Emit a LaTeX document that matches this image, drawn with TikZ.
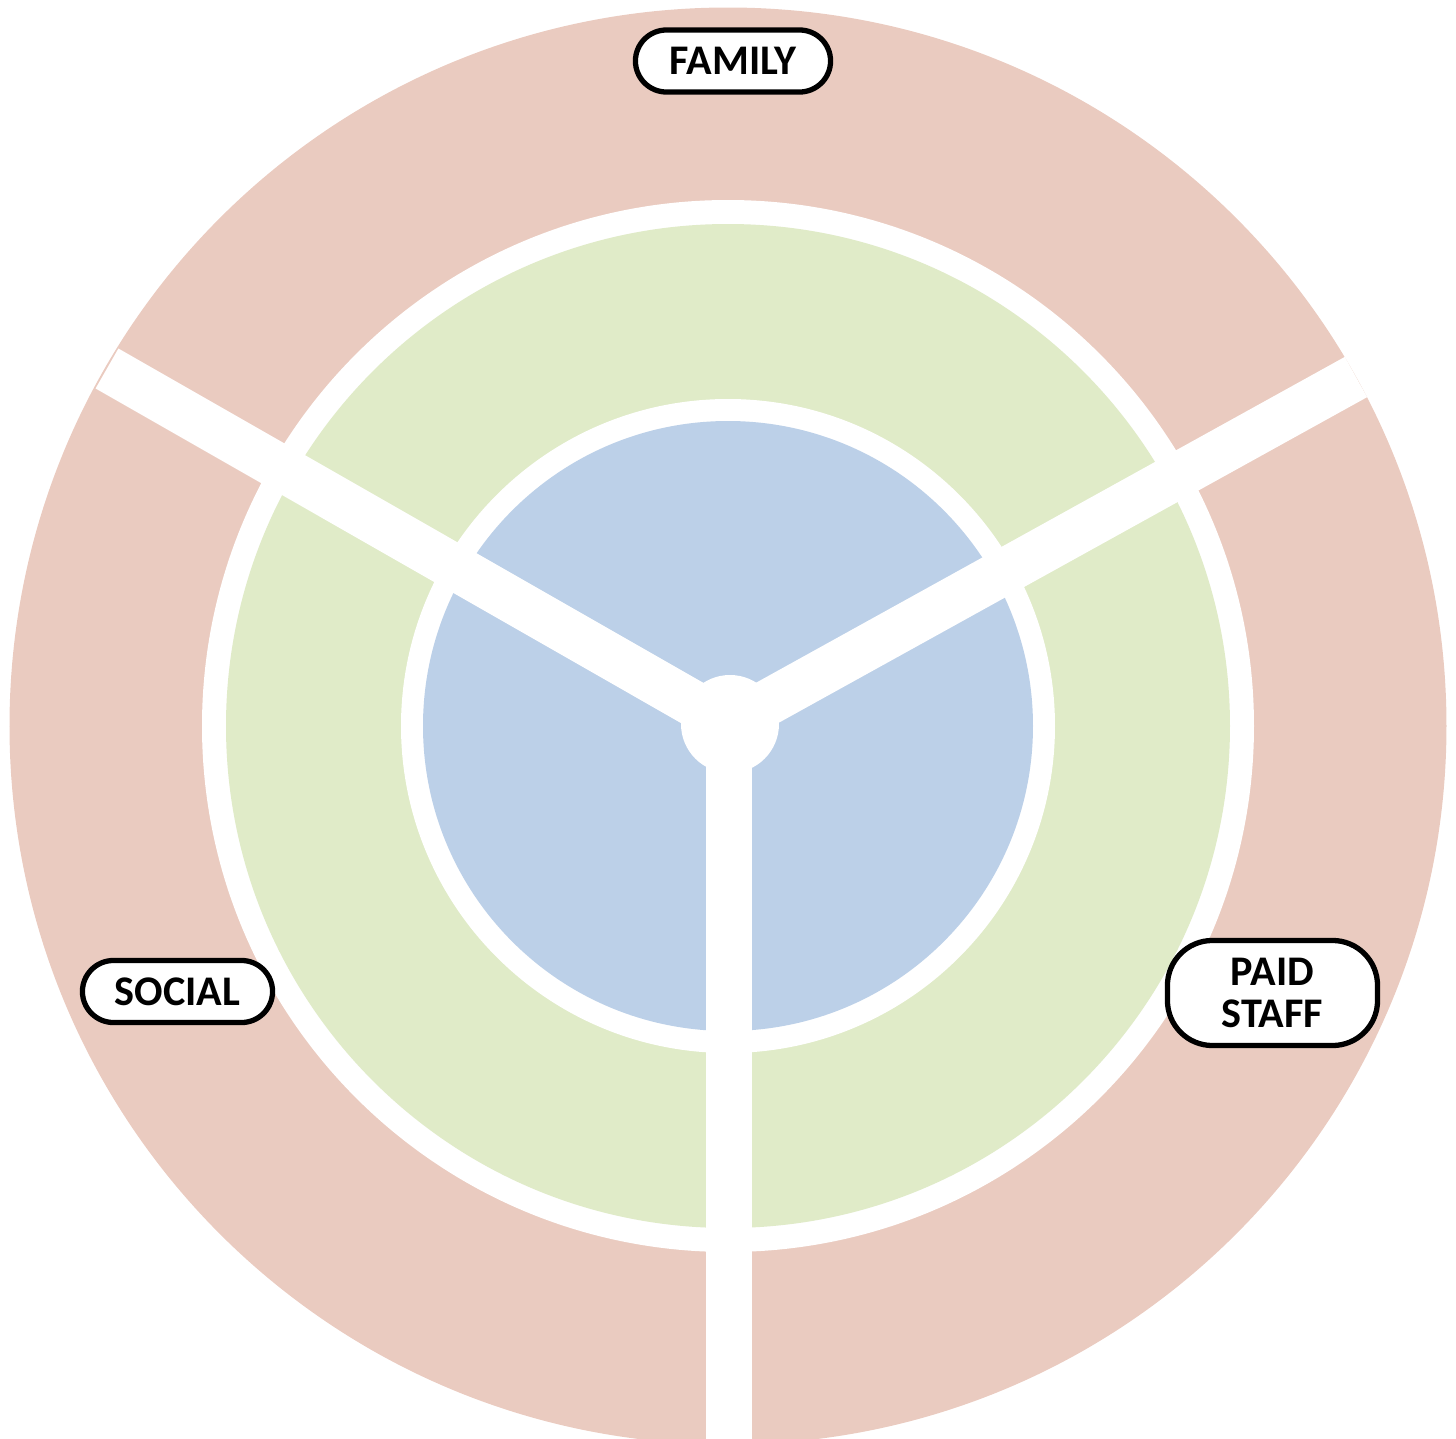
\documentclass[tikz,border=0pt]{standalone}
\usepackage{fontspec}
\setmainfont{Carlito}
\definecolor{ringpink}{RGB}{234,203,192}
\definecolor{ringgreen}{RGB}{224,235,200}
\definecolor{ringblue}{RGB}{188,208,232}
\begin{document}
\begin{tikzpicture}[x=0.01cm,y=-0.01cm,
  spoke/.style={white,line width=0.46cm,line cap=butt},
  tag/.style={draw=black,fill=white,line width=1.5pt,inner sep=0pt,
    font=\fontsize{12}{12.2}\selectfont\bfseries,align=center}]
\useasboundingbox (0,0) rectangle (1456,1439);
% rings
\fill[ringpink] (728,726) circle (718.5);
\fill[white] (728,726) circle (526);
\fill[ringgreen] (728,726) circle (502);
\fill[white] (728,726) circle (327);
\fill[ringblue] (728,726) circle (305);
% spokes
\coordinate (c) at (729,724);
\coordinate (sl) at (107,368.5);
\coordinate (sr) at (1356,377);
\coordinate (sb) at (729,1450);
\draw[spoke] (c) -- (sl);
\draw[spoke] (c) -- (sr);
\draw[spoke] (c) -- (sb);
\fill[white] (730,724) circle (49);
% labels
\node[tag,minimum width=1.95cm,minimum height=0.62cm,rounded corners=0.31cm] (family) at (733,61) {\raisebox{-0.6pt}{FAMILY}};
\node[tag,minimum width=1.90cm,minimum height=0.62cm,rounded corners=0.31cm] (social) at (177.5,991.5) {\raisebox{-0.6pt}{SOCIAL}};
\node[tag,minimum width=2.10cm,minimum height=1.05cm,rounded corners=0.45cm] (paid) at (1272.5,993) {PAID\\STAFF};
\end{tikzpicture}
\end{document}
